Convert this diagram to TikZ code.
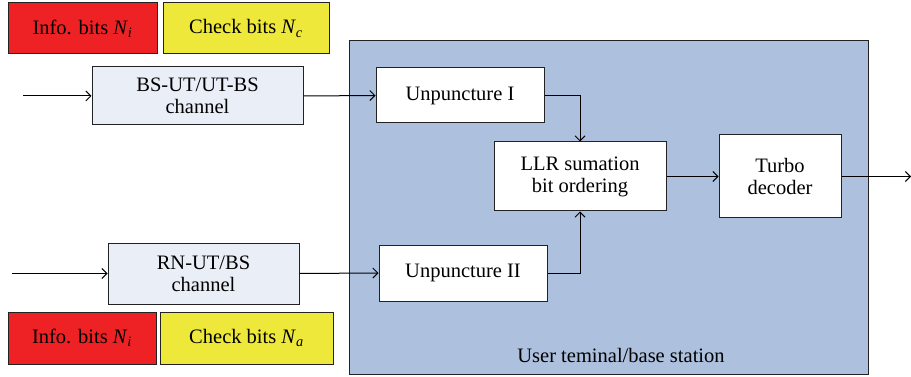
\documentclass[tikz,border=0pt]{standalone}
\usepackage{fontspec}
\setmainfont{Liberation Serif}
\usetikzlibrary{arrows.meta}
\definecolor{infored}{HTML}{EE2224}
\definecolor{checkyellow}{HTML}{EDE83A}
\definecolor{chanfill}{HTML}{E9EEF7}
\definecolor{stationblue}{HTML}{ADC0DE}
\definecolor{edgegray}{HTML}{222222}
\begin{document}
\begin{tikzpicture}[x=1pt,y=-1pt,
				every node/.style={font=\fontsize{20.5}{22}\selectfont,align=center,inner sep=0pt},
				block/.style={draw=edgegray,line width=1pt,fill=white},
				chan/.style={block,fill=chanfill},
				bits/.style={draw=edgegray,line width=1pt,minimum height=51pt},
				link/.style={line width=1pt,-{Straight Barb[length=5pt,width=10pt]}}]
\useasboundingbox (0,0) rectangle (911,377);
% user terminal
\node[draw=edgegray,line width=1pt,fill=stationblue,minimum width=519pt,minimum height=333pt] (station) at (608.5,207.5) {};
\node (stationlabel) at (621,355) {User teminal/base station};
% bits
\node[bits,fill=infored,minimum width=149pt] (infoA) at (82.5,28.5) {Info. bits \textit{N}\textsubscript{\textit{i}}};
\node[bits,fill=checkyellow,minimum width=166pt] (checkA) at (246,28.5) {Check bits \textit{N}\textsubscript{\textit{c}}};
\node[bits,fill=infored,minimum width=148pt,minimum height=52pt] (infoB) at (82,338) {Info. bits \textit{N}\textsubscript{\textit{i}}};
\node[bits,fill=checkyellow,minimum width=173pt,minimum height=52pt] (checkB) at (246.5,338) {Check bits \textit{N}\textsubscript{\textit{a}}};
% channels
\node[chan,minimum width=211pt,minimum height=58pt] (bsut) at (197.5,96) {BS-UT/UT-BS\\channel};
\node[chan,minimum width=191pt,minimum height=61pt] (rnut) at (203.5,273.5) {RN-UT/BS\\channel};
% receiver blocks
\node[block,minimum width=168pt,minimum height=55pt] (unpA) at (460,95.5) {Unpuncture I};
\node[block,minimum width=168pt,minimum height=56pt] (unpB) at (463,273) {Unpuncture II};
\node[block,minimum width=172pt,minimum height=69pt] (llr) at (580,176.5) {LLR sumation\\bit ordering};
\node[block,minimum width=122pt,minimum height=83pt] (turbo) at (780,176.5) {Turbo\\decoder};
\coordinate (inA) at (23,96);
\coordinate (inB) at (12,273.5);
\coordinate (out) at (911,176.5);
% connectors
\draw[link] (inA) -- (bsut);
\draw[link] (inB) -- (rnut);
\draw[link] (bsut.east) -- (unpA.west);
\draw[link] (rnut.east) -- (unpB.west);
\draw[link] (unpA.east) -| (llr.north);
\draw[link] (unpB.east) -| (llr.south);
\draw[link] (llr) -- (turbo);
\draw[link] (turbo) -- (out);
\end{tikzpicture}
\end{document}
